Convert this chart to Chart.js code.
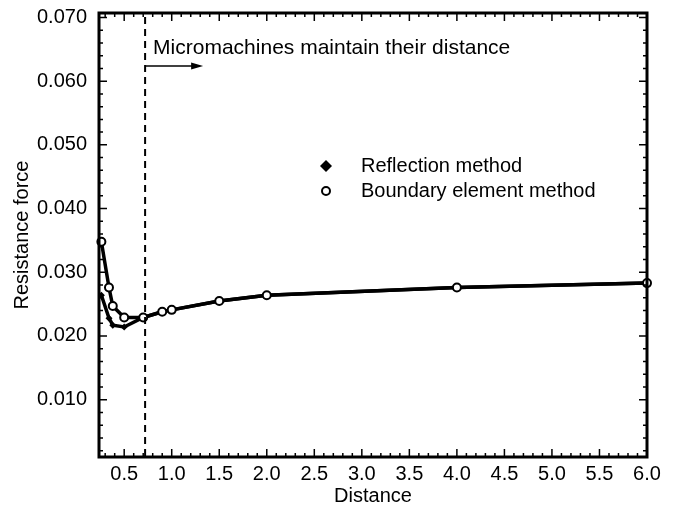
<!DOCTYPE html>
<html>
<head>
<meta charset="utf-8">
<script src="https://cdn.jsdelivr.net/npm/chart.js@4"></script>
<style>
  html, body { margin: 0; padding: 0; background: #fff; }
  #wrap { width: 681px; height: 510px; }
</style>
</head>
<body>
<div id="wrap"><canvas id="resistanceChart"></canvas></div>
<script>
// Distances where the force was computed
const distances = [0.26, 0.34, 0.38, 0.5, 0.7, 0.9, 1.0, 1.5, 2.0, 4.0, 6.0];

// Resistance force per method
const boundaryElement = [0.0348, 0.0276, 0.0247, 0.0229, 0.0229, 0.0238, 0.0241, 0.0255, 0.0264, 0.0276, 0.0283];
const reflection = [0.0264, 0.0228, 0.0217, 0.0214, 0.0229, 0.0238, 0.0241, 0.0255, 0.0264, 0.0276, 0.0283];

// Axis tick labels
const xTickValues = [0.5, 1.0, 1.5, 2.0, 2.5, 3.0, 3.5, 4.0, 4.5, 5.0, 5.5, 6.0];
const yTickValues = [0.010, 0.020, 0.030, 0.040, 0.050, 0.060, 0.070];

// Where the machines start keeping their spacing
const keepDistanceAt = 0.72;

const FONT = '"Liberation Sans", Arial, sans-serif';

const toPoints = (ys) => distances.map((x, i) => ({ x: x, y: ys[i] }));

// Frame, inward ticks, dashed marker, arrow note and legend
const decorations = {
    id: 'decorations',
    afterDraw(chart) {
        const ctx = chart.ctx;
        const { left, right, top, bottom } = chart.chartArea;
        const xs = chart.scales.x;
        const ys = chart.scales.y;
        ctx.save();
        ctx.strokeStyle = '#000';
        ctx.fillStyle = '#000';

        // minor / major ticks on all four sides
        ctx.lineWidth = 1.5;
        for (let i = 3; i <= 60; i++) {
            const v = i / 10;
            const px = xs.getPixelForValue(v);
            const len = (i % 5 === 0) ? 8 : 4;
            ctx.beginPath();
            ctx.moveTo(px, bottom); ctx.lineTo(px, bottom - len);
            ctx.moveTo(px, top); ctx.lineTo(px, top + len);
            ctx.stroke();
        }
        for (let i = 1; i <= 35; i++) {
            const v = i * 0.002;
            const py = ys.getPixelForValue(v);
            const len = (i % 5 === 0) ? 8 : 4;
            ctx.beginPath();
            ctx.moveTo(left, py); ctx.lineTo(left + len, py);
            ctx.moveTo(right, py); ctx.lineTo(right - len, py);
            ctx.stroke();
        }

        // frame
        ctx.lineWidth = 3;
        ctx.strokeRect(left, top, right - left, bottom - top);

        // dashed line
        const dx = xs.getPixelForValue(keepDistanceAt);
        ctx.lineWidth = 2;
        ctx.setLineDash([7, 5]);
        ctx.beginPath();
        ctx.moveTo(dx, top + 4);
        ctx.lineTo(dx, bottom);
        ctx.stroke();
        ctx.setLineDash([]);

        // arrow
        const ay = 66;
        ctx.lineWidth = 1.5;
        ctx.beginPath();
        ctx.moveTo(dx, ay);
        ctx.lineTo(dx + 50, ay);
        ctx.stroke();
        ctx.beginPath();
        ctx.moveTo(dx + 58, ay);
        ctx.lineTo(dx + 46, ay - 3.5);
        ctx.lineTo(dx + 46, ay + 3.5);
        ctx.closePath();
        ctx.fill();

        // note text
        ctx.font = '21px ' + FONT;
        ctx.textBaseline = 'middle';
        ctx.textAlign = 'left';
        ctx.fillText('Micromachines maintain their distance', dx + 8, 48);

        // legend
        const lx = 326;
        ctx.beginPath();
        ctx.moveTo(lx, 160); ctx.lineTo(lx + 6, 166); ctx.lineTo(lx, 172); ctx.lineTo(lx - 6, 166);
        ctx.closePath();
        ctx.fill();
        ctx.beginPath();
        ctx.lineWidth = 2;
        ctx.arc(lx, 191, 4, 0, Math.PI * 2);
        ctx.stroke();
        ctx.font = '20px ' + FONT;
        ctx.fillText('Reflection method', 361, 166);
        ctx.fillText('Boundary element method', 361, 191);
        ctx.restore();
    }
};

const chartCtx = document.getElementById('resistanceChart').getContext('2d');

new Chart(chartCtx, {
    type: 'line',
    data: {
        datasets: [
            {
                label: 'Boundary element method',
                data: toPoints(boundaryElement),
                borderColor: '#000',
                borderWidth: 3.5,
                pointStyle: 'circle',
                pointRadius: 4,
                pointBorderWidth: 2,
                pointBackgroundColor: '#fff',
                pointBorderColor: '#000',
                tension: 0,
                clip: false
            },
            {
                label: 'Reflection method',
                data: toPoints(reflection),
                borderColor: '#000',
                borderWidth: 3.5,
                pointStyle: 'rectRot',
                pointRadius: 3.5,
                pointBorderWidth: 0,
                pointBackgroundColor: '#000',
                tension: 0,
                clip: false
            }
        ]
    },
    options: {
        responsive: true,
        maintainAspectRatio: false,
        animation: false,
        events: [],
        layout: { padding: { top: 13, right: 34, left: 0, bottom: 0 } },
        plugins: {
            legend: { display: false },
            tooltip: { enabled: false }
        },
        scales: {
            x: {
                type: 'linear',
                min: 0.235,
                max: 6.0,
                afterBuildTicks: (scale) => {
                    scale.ticks = xTickValues.map(v => ({ value: v }));
                },
                afterFit: (scale) => {
                    scale.height = 53;
                    scale.paddingLeft = 0;
                    scale.paddingRight = 0;
                },
                grid: { display: false, drawTicks: false },
                border: { display: false },
                ticks: {
                    padding: 5,
                    color: '#000',
                    font: { family: FONT, size: 20 },
                    maxRotation: 0,
                    autoSkip: false,
                    callback: (v) => Number(v).toFixed(1)
                },
                title: {
                    display: true,
                    text: 'Distance',
                    color: '#000',
                    font: { family: FONT, size: 20 },
                    padding: { top: 0, bottom: 2 }
                }
            },
            y: {
                min: 0.001,
                max: 0.0707,
                afterBuildTicks: (scale) => {
                    scale.ticks = yTickValues.map(v => ({ value: v }));
                },
                afterFit: (scale) => {
                    scale.width = 99;
                    scale.paddingTop = 0;
                    scale.paddingBottom = 0;
                },
                grid: { display: false, drawTicks: false },
                border: { display: false },
                ticks: {
                    padding: 12,
                    color: '#000',
                    font: { family: FONT, size: 20 },
                    autoSkip: false,
                    callback: (v) => Number(v).toFixed(3)
                },
                title: {
                    display: true,
                    text: 'Resistance force',
                    color: '#000',
                    font: { family: FONT, size: 20 },
                    padding: { top: 10, bottom: 0 }
                }
            }
        }
    },
    plugins: [decorations]
});
</script>
</body>
</html>
